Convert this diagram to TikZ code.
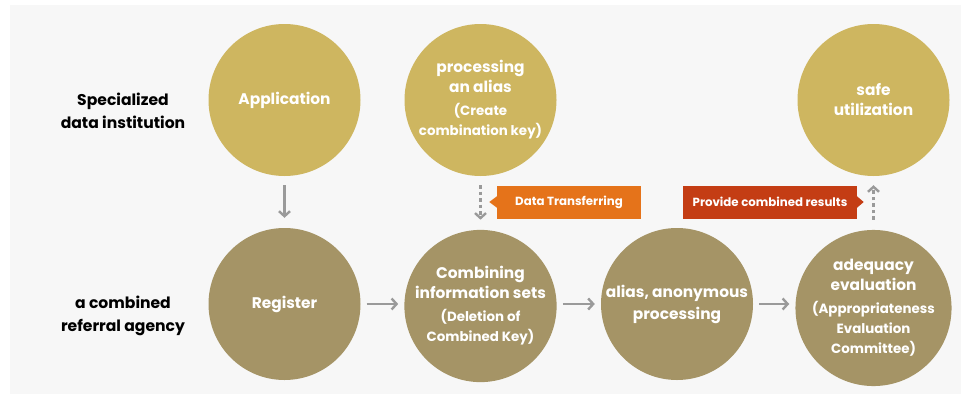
\documentclass[tikz,border=0pt]{standalone}
\usepackage{fontspec}
\setmainfont{Poppins}
\usetikzlibrary{arrows.meta,calc}
\definecolor{bgc}{HTML}{F7F7F7}
\definecolor{goldtop}{HTML}{CEB660}
\definecolor{goldbot}{HTML}{A59466}
\definecolor{tagorange}{HTML}{E5731A}
\definecolor{tagred}{HTML}{C43D14}
\definecolor{arrowgray}{HTML}{9A9A9A}
\newcommand{\pfont}{\fontsize{13.4}{20}\selectfont}
\begin{document}
\begin{tikzpicture}[x=1pt,y=-1pt,
  circ/.style={circle,minimum size=152pt,inner sep=0pt,text=white,align=center,
    font=\bfseries\fontsize{15.4}{20}\selectfont},
  topc/.style={circ,fill=goldtop},
  botc/.style={circ,fill=goldbot},
  rowlabel/.style={align=center,text=black,font=\bfseries\fontsize{15.6}{22.5}\selectfont},
  tagbox/.style={minimum width=#1,minimum height=33pt,inner sep=0pt,text=white,
    font=\bfseries\fontsize{11.8}{13}\selectfont},
  flow/.style={draw=arrowgray,line width=2.6pt,-{Straight Barb[length=5pt,width=11pt,line width=2.4pt]}},
  dflow/.style={flow,dash pattern=on 3.5pt off 3pt}
]
\useasboundingbox (0,0) rectangle (961,394);
\fill[bgc] (10,5) rectangle (961,394);

% row labels
\node[rowlabel] (lab1) at (123,111) {Specialized\\data institution};
\node[rowlabel] (lab2) at (123,316) {a combined\\referral agency};

% top row
\node[topc] (app) at (284.5,100) {Application};
\node[topc] (proc) at (480.5,100) {processing\\an alias\\[3pt]{\pfont (Create}\\{\pfont combination key)}};
\node[topc] (safe) at (873.5,100) {safe\\utilization};

% bottom row
\node[botc] (reg) at (284.5,304) {Register};
\node[botc] (comb) at (480.5,306) {Combining\\information sets\\[3pt]{\pfont (Deletion of}\\{\pfont Combined Key)}};
\node[botc] (anon) at (677,304) {alias, anonymous\\[2pt]processing};
\node[botc] (adeq) at (873.5,308) {adequacy\\evaluation\\[3pt]{\pfont (Appropriateness}\\{\pfont Evaluation}\\{\pfont Committee)}};

% tags
\node[tagbox=144pt,fill=tagorange] (dt) at (569,202) {Data Transferring};
\fill[tagorange] ($(dt.west)+(0.5,-6)$) -- ++(-8,6) -- ++(8,6) -- cycle;
\node[tagbox=174pt,fill=tagred] (pcr) at (770,202) {Provide combined results};
\fill[tagred] ($(pcr.east)+(-0.5,-6)$) -- ++(7,6) -- ++(-7,6) -- cycle;

% connectors
\draw[flow,shorten <=9pt,shorten >=10pt] (app) -- (reg);
\draw[dflow,shorten <=9pt,shorten >=10pt] (proc) -- (comb);
\draw[dflow,shorten <=10pt,shorten >=9pt] (adeq) -- (safe);
\draw[flow,shorten <=6pt,shorten >=6pt] (reg) -- (comb.west |- reg.east);
\draw[flow,shorten <=6pt,shorten >=6pt] (comb.east |- anon.west) -- (anon);
\draw[flow,shorten <=6pt,shorten >=6pt] (anon) -- (adeq.west |- anon.east);
\end{tikzpicture}
\end{document}
